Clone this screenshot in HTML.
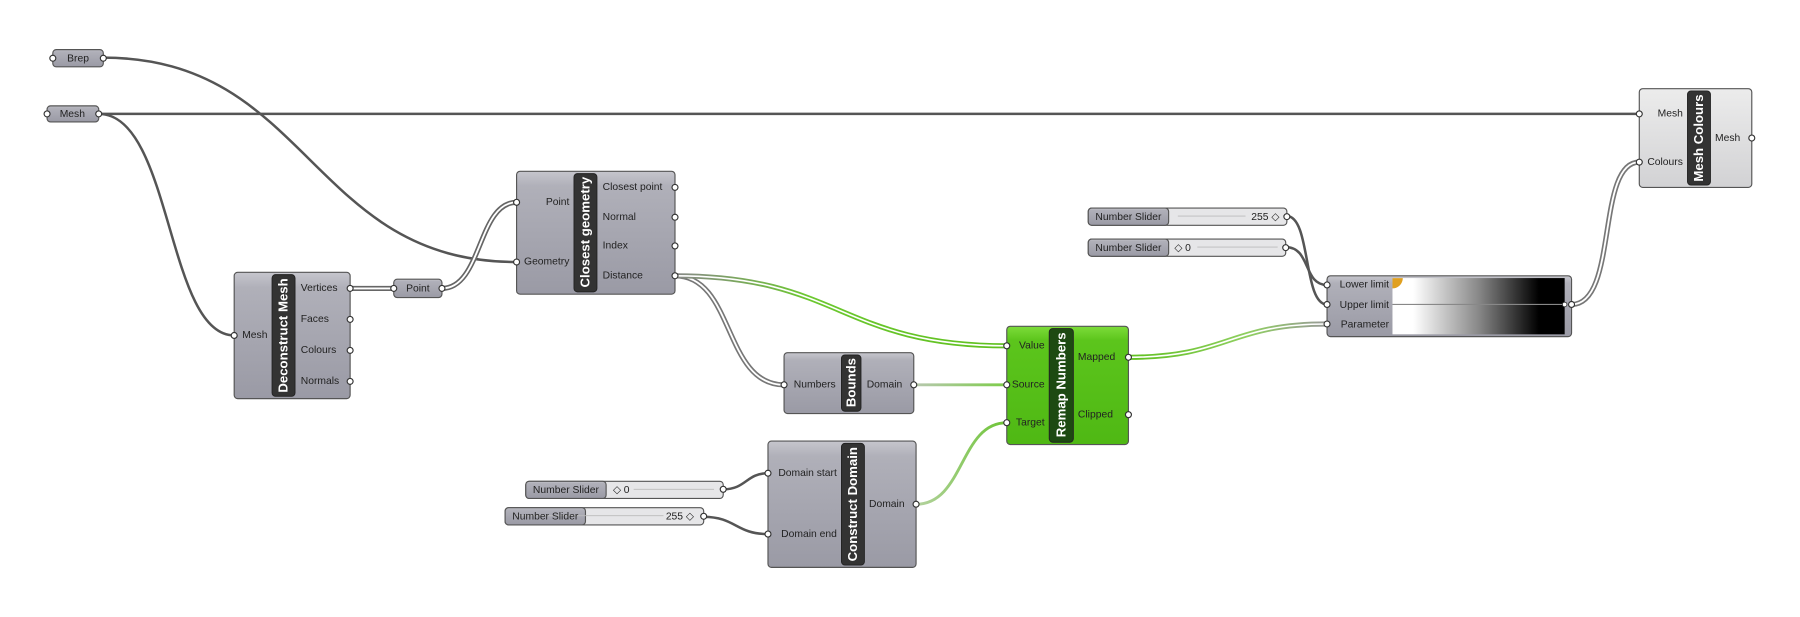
<!DOCTYPE html>
<html><head><meta charset="utf-8"><style>
html,body{margin:0;padding:0;background:#fff;}
svg{display:block;}
text{font-family:"Liberation Sans",sans-serif;}
</style></head><body>
<svg width="1800" height="617" viewBox="0 0 1568 537" xmlns="http://www.w3.org/2000/svg">
<defs>
<linearGradient id="cg" x1="0" y1="0" x2="0" y2="1"><stop offset="0" stop-color="#c6c6cd"/><stop offset="0.12" stop-color="#b0b0b9"/><stop offset="1" stop-color="#9a9aa5"/></linearGradient>
<linearGradient id="gg" x1="0" y1="0" x2="0" y2="1"><stop offset="0" stop-color="#7ddc3a"/><stop offset="0.12" stop-color="#5cc51c"/><stop offset="1" stop-color="#4fb814"/></linearGradient>
<linearGradient id="lg" x1="0" y1="0" x2="0" y2="1"><stop offset="0" stop-color="#ececec"/><stop offset="1" stop-color="#d2d2d4"/></linearGradient>
<linearGradient id="bw" x1="0" y1="0" x2="1" y2="0"><stop offset="0" stop-color="#fff"/><stop offset="0.12" stop-color="#fff"/><stop offset="0.5" stop-color="#888"/><stop offset="0.85" stop-color="#000"/><stop offset="1" stop-color="#000"/></linearGradient>
<linearGradient id="w1" gradientUnits="userSpaceOnUse" x1="588" y1="0" x2="877" y2="0"><stop offset="0" stop-color="#888"/><stop offset="0.4" stop-color="#6cc830"/><stop offset="1" stop-color="#5fc01e"/></linearGradient>
<linearGradient id="w2" gradientUnits="userSpaceOnUse" x1="983" y1="0" x2="1156" y2="0"><stop offset="0" stop-color="#5fc01e"/><stop offset="0.6" stop-color="#8fcf60"/><stop offset="1" stop-color="#999"/></linearGradient>
<linearGradient id="w3" gradientUnits="userSpaceOnUse" x1="796" y1="0" x2="877" y2="0"><stop offset="0" stop-color="#b8c8b0"/><stop offset="1" stop-color="#7ccc48"/></linearGradient>
<linearGradient id="w4" gradientUnits="userSpaceOnUse" x1="798" y1="0" x2="877" y2="0"><stop offset="0" stop-color="#b5d2a0"/><stop offset="1" stop-color="#6cc434"/></linearGradient>
</defs>

<!-- wires -->
<g fill="none" stroke-linecap="round">
<path d="M90,50 C270,50 270,228 450,228" stroke="#555" stroke-width="2.2"/>
<path d="M86,99 L1428,99" stroke="#555" stroke-width="2.2"/>
<path d="M86,99 C150,99 145,292 204,292" stroke="#555" stroke-width="2.2"/>
<path d="M630,426 C650,426 650,412 669,412" stroke="#555" stroke-width="2.2"/>
<path d="M613,450 C641,450 641,465 669,465" stroke="#555" stroke-width="2.2"/>
<path d="M1121,188 C1142,188 1135,265 1156,265" stroke="#555" stroke-width="2.2"/>
<path d="M1120,215 C1142,215 1135,248 1156,248" stroke="#555" stroke-width="2.2"/>
<path d="M796,335 L877,335" stroke="url(#w3)" stroke-width="2.5"/>
<path d="M798,439 C840,439 836,368 877,368" stroke="url(#w4)" stroke-width="2.5"/>
<!-- double wires -->
<path d="M305,251 L343,251" stroke="#666" stroke-width="4.5"/><path d="M305,251 L343,251" stroke="#fff" stroke-width="1.6"/>
<path d="M385,251 C420,251 416,176 450,176" stroke="#666" stroke-width="4.5"/><path d="M385,251 C420,251 416,176 450,176" stroke="#fff" stroke-width="1.6"/>
<path d="M588,240 C640,240 630,335 683,335" stroke="#777" stroke-width="4.5"/><path d="M588,240 C640,240 630,335 683,335" stroke="#fff" stroke-width="1.6"/>
<path d="M588,240 C732,240 732,301 877,301" stroke="url(#w1)" stroke-width="4.5"/><path d="M588,240 C732,240 732,301 877,301" stroke="#fff" stroke-width="1.4"/>
<path d="M983,311 C1070,311 1070,282 1156,282" stroke="url(#w2)" stroke-width="4.5"/><path d="M983,311 C1070,311 1070,282 1156,282" stroke="#fff" stroke-width="1.4"/>
<path d="M1369,265 C1410,265 1390,141 1428,141" stroke="#777" stroke-width="4.5"/><path d="M1369,265 C1410,265 1390,141 1428,141" stroke="#fff" stroke-width="1.6"/>
</g>

<!-- params -->
<g stroke="#555" stroke-width="1">
<rect x="46" y="43" width="44" height="15" rx="3" fill="url(#cg)"/>
<rect x="41" y="92" width="45" height="14" rx="3" fill="url(#cg)"/>
<rect x="343" y="243" width="42" height="16" rx="3" fill="url(#cg)"/>
</g>
<g font-size="9" fill="#222" text-anchor="middle" dominant-baseline="middle">
<text x="68" y="51">Brep</text><text x="63" y="99.5">Mesh</text><text x="364" y="251.5">Point</text>
</g>

<!-- components -->
<g stroke="#555" stroke-width="1">
<rect x="204" y="237" width="101" height="110" rx="3" fill="url(#cg)"/>
<rect x="450" y="149" width="138" height="107" rx="3" fill="url(#cg)"/>
<rect x="683" y="307" width="113" height="53" rx="3" fill="url(#cg)"/>
<rect x="669" y="384" width="129" height="110" rx="3" fill="url(#cg)"/>
<rect x="877" y="284" width="106" height="103" rx="3" fill="url(#gg)"/>
<rect x="1428" y="77" width="98" height="86" rx="3" fill="url(#lg)"/>
<rect x="1156" y="240" width="213" height="53" rx="3" fill="url(#cg)"/>
</g>
<!-- title bars -->
<g fill="#333" stroke="#222" stroke-width="0.8">
<rect x="237" y="239" width="20" height="106" rx="3"/>
<rect x="500" y="151" width="20" height="103" rx="3"/>
<rect x="733" y="309" width="17" height="49" rx="3"/>
<rect x="733" y="386" width="20" height="106" rx="3"/>
<rect x="914" y="286" width="21" height="99" rx="3" fill="#1d4a12"/>
<rect x="1470" y="79" width="20" height="82" rx="3"/>
</g>
<g fill="#fff" font-weight="bold" font-size="11.5" text-anchor="middle" dominant-baseline="middle">
<text transform="translate(247.5,292) rotate(-90)">Deconstruct Mesh</text>
<text transform="translate(510.5,202) rotate(-90)">Closest geometry</text>
<text transform="translate(742,333) rotate(-90)">Bounds</text>
<text transform="translate(743.5,439) rotate(-90)">Construct Domain</text>
<text transform="translate(925,335) rotate(-90)">Remap Numbers</text>
<text transform="translate(1480.5,120) rotate(-90)">Mesh Colours</text>
</g>
<!-- port labels -->
<g font-size="9" fill="#222" dominant-baseline="middle">
<g text-anchor="end">
<text x="233" y="292">Mesh</text>
<text x="496" y="176">Point</text><text x="496" y="228">Geometry</text>
<text x="728" y="335">Numbers</text>
<text x="729" y="412">Domain start</text><text x="729" y="465">Domain end</text>
<text x="910" y="301">Value</text><text x="910" y="335">Source</text><text x="910" y="368">Target</text>
<text x="1466" y="99">Mesh</text><text x="1466" y="141">Colours</text>
<text x="1210" y="248">Lower limit</text><text x="1210" y="265.5">Upper limit</text><text x="1210" y="282.5">Parameter</text>
</g>
<text x="262" y="251">Vertices</text><text x="262" y="278">Faces</text><text x="262" y="305">Colours</text><text x="262" y="332">Normals</text>
<text x="525" y="163">Closest point</text><text x="525" y="189">Normal</text><text x="525" y="214">Index</text><text x="525" y="240">Distance</text>
<text x="755" y="335">Domain</text>
<text x="757" y="439">Domain</text>
<text x="939" y="311">Mapped</text><text x="939" y="361">Clipped</text>
<text x="1494" y="120">Mesh</text>
</g>

<!-- gradient -->
<rect x="1213" y="242" width="150" height="49" fill="url(#bw)"/>
<line x1="1213" y1="265" x2="1363" y2="265" stroke="#888" stroke-width="1"/>
<circle cx="1363" cy="265" r="2" fill="#fff" stroke="#333" stroke-width="0.8"/>
<path d="M1213,242 h9 a9,9 0 0 1 -9,9 z" fill="#e0a020"/>

<!-- sliders -->
<g stroke="#555" stroke-width="1">
<rect x="458" y="419" width="172" height="15" rx="3" fill="#e6e6e8"/><rect x="458" y="419" width="70" height="15" rx="3" fill="url(#cg)"/>
<rect x="440" y="442" width="173" height="15" rx="3" fill="#e6e6e8"/><rect x="440" y="442" width="70" height="15" rx="3" fill="url(#cg)"/>
<rect x="948" y="181" width="173" height="15" rx="3" fill="#e6e6e8"/><rect x="948" y="181" width="70" height="15" rx="3" fill="url(#cg)"/>
<rect x="948" y="208" width="172" height="15" rx="3" fill="#e6e6e8"/><rect x="948" y="208" width="70" height="15" rx="3" fill="url(#cg)"/>
</g>
<g stroke="#bbb" stroke-width="0.8">
<line x1="552" y1="426" x2="622" y2="426"/><line x1="450" y1="449" x2="578" y2="449"/>
<line x1="1026" y1="188" x2="1085" y2="188"/><line x1="1043" y1="215" x2="1113" y2="215"/>
</g>
<g font-size="9" fill="#222" dominant-baseline="middle">
<text x="493" y="427" text-anchor="middle">Number Slider</text>
<text x="475" y="450" text-anchor="middle">Number Slider</text>
<text x="983" y="189" text-anchor="middle">Number Slider</text>
<text x="983" y="216" text-anchor="middle">Number Slider</text>
<text x="534" y="427">◇ 0</text>
<text x="580" y="450">255 ◇</text>
<text x="1090" y="189">255 ◇</text>
<text x="1023" y="216">◇ 0</text>
</g>

<!-- nubs -->
<g fill="#fff" stroke="#333" stroke-width="1">
<circle cx="46" cy="50.5" r="2.6"/><circle cx="90" cy="50.5" r="2.6"/>
<circle cx="41" cy="99" r="2.6"/><circle cx="86" cy="99" r="2.6"/>
<circle cx="343" cy="251" r="2.6"/><circle cx="385" cy="251" r="2.6"/>
<circle cx="204" cy="292" r="2.6"/>
<circle cx="305" cy="251" r="2.6"/><circle cx="305" cy="278" r="2.6"/><circle cx="305" cy="305" r="2.6"/><circle cx="305" cy="332" r="2.6"/>
<circle cx="450" cy="176" r="2.6"/><circle cx="450" cy="228" r="2.6"/>
<circle cx="588" cy="163" r="2.6"/><circle cx="588" cy="189" r="2.6"/><circle cx="588" cy="214" r="2.6"/><circle cx="588" cy="240" r="2.6"/>
<circle cx="683" cy="335" r="2.6"/><circle cx="796" cy="335" r="2.6"/>
<circle cx="669" cy="412" r="2.6"/><circle cx="669" cy="465" r="2.6"/><circle cx="798" cy="439" r="2.6"/>
<circle cx="877" cy="301" r="2.6"/><circle cx="877" cy="335" r="2.6"/><circle cx="877" cy="368" r="2.6"/>
<circle cx="983" cy="311" r="2.6"/><circle cx="983" cy="361" r="2.6"/>
<circle cx="630" cy="426" r="2.6"/><circle cx="613" cy="449.5" r="2.6"/>
<circle cx="1121" cy="188.5" r="2.6"/><circle cx="1120" cy="215.5" r="2.6"/>
<circle cx="1156" cy="248" r="2.6"/><circle cx="1156" cy="265" r="2.6"/><circle cx="1156" cy="282" r="2.6"/>
<circle cx="1369" cy="265" r="2.6"/>
<circle cx="1428" cy="99" r="2.6"/><circle cx="1428" cy="141" r="2.6"/><circle cx="1526" cy="120" r="2.6"/>
</g>
</svg>
</body></html>
